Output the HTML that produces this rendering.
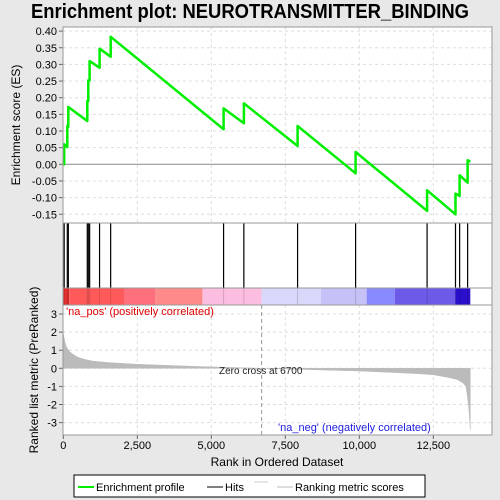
<!DOCTYPE html>
<html><head><meta charset="utf-8"><style>
body{margin:0;background:#e8e8e8;}
svg{display:block;font-family:"Liberation Sans",sans-serif;}
</style></head><body>
<svg id="c" width="500" height="500" xmlns="http://www.w3.org/2000/svg">
<rect x="0" y="0" width="500" height="500" fill="#e8e8e8"/>
<text x="250" y="18" text-anchor="middle" font-size="20" font-weight="bold" textLength="438" lengthAdjust="spacingAndGlyphs">Enrichment plot: NEUROTRANSMITTER_BINDING</text>
<rect x="63" y="27" width="429" height="408" fill="#fff"/>
<g id="grid"></g>
<g id="colorbar"></g>
<g id="metric"></g>
<g id="hits"></g>
<g id="es"></g>
<g id="axes"></g>
<line x1="63" y1="223" x2="492" y2="223" stroke="#999"/>
<line x1="63" y1="288" x2="492" y2="288" stroke="#999"/>
<line x1="63" y1="305" x2="492" y2="305" stroke="#999"/>
<rect x="63" y="27" width="429" height="408" fill="none" stroke="#999"/>
<text x="66" y="315" font-size="11" fill="#e00000">'na_pos' (positively correlated)</text>
<text x="278" y="431" font-size="11" fill="#2020e0">'na_neg' (negatively correlated)</text>
<text x="219" y="374" font-size="10" fill="#222">Zero cross at 6700</text>
<text x="20" y="125" font-size="12" text-anchor="middle" transform="rotate(-90 20 125)">Enrichment score (ES)</text>
<text x="38" y="370" font-size="12" text-anchor="middle" transform="rotate(-90 38 370)">Ranked list metric (PreRanked)</text>
<text x="277" y="466" font-size="12" text-anchor="middle">Rank in Ordered Dataset</text>
<g>
<rect x="74" y="475" width="351" height="22" fill="#fff" stroke="#000"/>
<line x1="78" y1="487" x2="94" y2="487" stroke="#00ee00" stroke-width="2"/>
<text x="96" y="491" font-size="11">Enrichment profile</text>
<line x1="207" y1="487" x2="223" y2="487" stroke="#000"/>
<text x="225" y="491" font-size="11">Hits</text>
<line x1="254" y1="482" x2="268" y2="482" stroke="#ccc"/>
<line x1="277" y1="487" x2="293" y2="487" stroke="#bbb"/>
<text x="295" y="491" font-size="11">Ranking metric scores</text>
</g>
</svg>
<script>
const hitRanks=[30,135,170,810,845,890,1225,1600,5415,6100,7915,9875,12290,13250,13390,13660];
const esBefore=[0,0.052,0.112,0.13,0.19,0.252,0.29,0.323,0.105,0.123,0.055,-0.027,-0.14,-0.15,-0.095,-0.055];
const esAfter=[0.06,0.115,0.172,0.19,0.252,0.31,0.347,0.383,0.168,0.183,0.115,0.037,-0.078,-0.088,-0.033,0.012];
const esEnd=0.008;
const totalRanks=13750;
const metricRanks=[0,50,100,200,300,500,750,1000,1500,2500,4000,5000,6700,8000,10000,11000,12000,12500,13000,13300,13500,13600,13650,13700,13750];
const metricVals=[1.9,1.5,1.2,0.95,0.8,0.6,0.48,0.4,0.32,0.22,0.13,0.08,0,-0.06,-0.15,-0.22,-0.3,-0.36,-0.5,-0.62,-0.8,-1.0,-1.5,-2.2,-3.4];
const esTicks=[0.40,0.35,0.30,0.25,0.20,0.15,0.10,0.05,0.00,-0.05,-0.10,-0.15];
const metricTicks=[3,2,1,0,-1,-2,-3];
const xTicks=[0,2500,5000,7500,10000,12500];
const colorStops=[0,200,2050,3100,4700,6700,8700,10250,11200,13250,13750];
const colorFills=["#e83030","#ff5a5a","#ff707c","#ff8a8a","#fbbde0","#d8d8fa","#c6c2f8","#8888ff","#6c5ae8","#2a10cc"];
const NS="http://www.w3.org/2000/svg";
const X=r=>63.3+r*0.0296;
const YE=v=>164.3-v*333;
const YM=v=>368.3-v*18.1;
function mk(t,a,p){const e=document.createElementNS(NS,t);for(const k in a)e.setAttribute(k,a[k]);p.appendChild(e);return e;}
const grid=document.getElementById('grid'),axes=document.getElementById('axes');
xTicks.forEach(t=>{
 if(t>0){const l1=mk('line',{x1:X(t),x2:X(t),y1:27,y2:223,stroke:'#ddd','stroke-dasharray':'3,3'},grid);
 
 const l2=mk('line',{x1:X(t),x2:X(t),y1:305,y2:435,stroke:'#ddd','stroke-dasharray':'3,3'},grid);
 }
 const tx=mk('text',{x:X(t),y:449,'font-size':11,'text-anchor':'middle'},axes);tx.textContent=t.toLocaleString('en-US');
 
 mk('line',{x1:X(t),x2:X(t),y1:435,y2:439,stroke:'#666'},axes);
});
esTicks.forEach(t=>{
 const g=mk('line',{x1:63,x2:492,y1:YE(t),y2:YE(t),stroke:t===0?'#888':'#ddd','stroke-dasharray':t===0?'':'3,3'},grid);
 
 mk('line',{x1:59,x2:63,y1:YE(t),y2:YE(t),stroke:'#666'},axes);
 const tx=mk('text',{x:57,y:YE(t)+4,'font-size':11,'text-anchor':'end'},axes);tx.textContent=t.toFixed(2);
 
});
metricTicks.forEach(t=>{
 const g=mk('line',{x1:63,x2:492,y1:YM(t),y2:YM(t),stroke:'#ddd','stroke-dasharray':'3,3'},grid);
 
 mk('line',{x1:59,x2:63,y1:YM(t),y2:YM(t),stroke:'#666'},axes);
 const tx=mk('text',{x:57,y:YM(t)+4,'font-size':11,'text-anchor':'end'},axes);tx.textContent=t;
 
});
const zl=mk('line',{x1:X(6700),x2:X(6700),y1:305,y2:435,stroke:'#999','stroke-dasharray':'4,3'},grid);

const cb=document.getElementById('colorbar');
colorFills.forEach((c,i)=>{const r=mk('rect',{x:X(colorStops[i]),y:288,width:X(colorStops[i+1])-X(colorStops[i]),height:17,fill:c},cb);
 });
hitRanks.forEach(h=>{const l=mk('line',{x1:X(h),x2:X(h),y1:288,y2:305,stroke:'rgba(0,0,0,0.15)'},cb);});
const met=document.getElementById('metric');
let d='M'+X(0)+','+YM(0);
metricRanks.forEach((r,i)=>{d+=' L'+X(r).toFixed(1)+','+YM(metricVals[i]).toFixed(1);});
d+=' L'+X(totalRanks)+','+YM(0)+'Z';
const mp=mk('path',{d:d,fill:'#bbb',stroke:'#bbb','stroke-width':0.5},met);

const hg=document.getElementById('hits');
hitRanks.forEach(h=>{const l=mk('line',{x1:X(h),x2:X(h),y1:223,y2:288,stroke:'#000','stroke-width':1.2},hg);
 });
const eg=document.getElementById('es');
let p='M'+X(0)+','+YE(0);
hitRanks.forEach((h,i)=>{p+=' L'+X(h).toFixed(1)+','+YE(esBefore[i]).toFixed(1)+' L'+X(h).toFixed(1)+','+YE(esAfter[i]).toFixed(1);});
p+=' L'+X(totalRanks).toFixed(1)+','+YE(esEnd).toFixed(1);
const ep=mk('path',{d:p,fill:'none',stroke:'#00ee00','stroke-width':2.5,'stroke-linejoin':'round'},eg);

</script>
</body></html>
